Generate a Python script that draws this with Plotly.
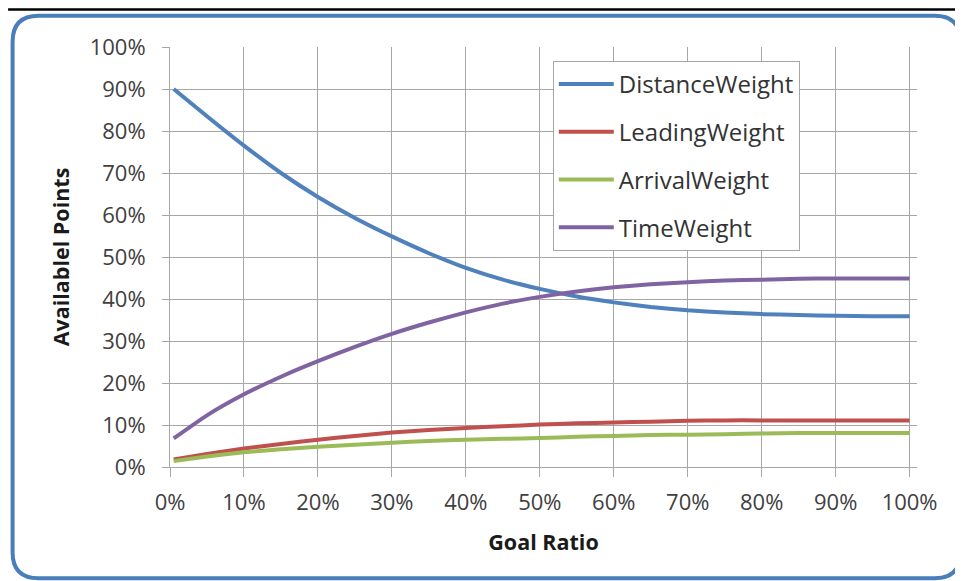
import plotly.graph_objects as go

# ---- data ----
goal_ratio = [0.005, 0.05, 0.10, 0.15, 0.20, 0.25, 0.30, 0.35, 0.40, 0.45, 0.50,
              0.55, 0.60, 0.65, 0.70, 0.75, 0.80, 0.85, 0.90, 0.95, 1.00]
distance_weight = [0.90, 0.835, 0.765, 0.70, 0.643, 0.593, 0.549, 0.509, 0.474, 0.446, 0.424,
                   0.406, 0.392, 0.381, 0.373, 0.368, 0.364, 0.362, 0.36, 0.359, 0.359]
leading_weight = [0.018, 0.031, 0.044, 0.055, 0.065, 0.074, 0.082, 0.088, 0.093, 0.097, 0.101,
                  0.104, 0.106, 0.108, 0.110, 0.111, 0.111, 0.111, 0.111, 0.111, 0.111]
arrival_weight = [0.014, 0.025, 0.035, 0.042, 0.048, 0.053, 0.058, 0.062, 0.065, 0.067, 0.069,
                  0.072, 0.074, 0.076, 0.077, 0.078, 0.080, 0.081, 0.081, 0.081, 0.081]
time_weight = [0.068, 0.123, 0.173, 0.215, 0.252, 0.286, 0.317, 0.344, 0.368, 0.389, 0.405,
               0.418, 0.428, 0.435, 0.440, 0.444, 0.446, 0.448, 0.449, 0.449, 0.449]

series = [
    ("DistanceWeight", distance_weight, "#4F81BD"),
    ("LeadingWeight", leading_weight, "#C0504D"),
    ("ArrivalWeight", arrival_weight, "#9BBB59"),
    ("TimeWeight", time_weight, "#8064A2"),
]

x_ticks = [i / 10 for i in range(11)]
y_ticks = [i / 10 for i in range(11)]
tick_text = [f"{i * 10}%" for i in range(11)]

# the page body has an 8px margin: the figure is drawn 8px in from the window
OFF = 8
W, H = 963 - OFF, 581 - OFF
ML, MR, MT, MB = 170 - OFF, 45.6, 46.7 - OFF, 114.3
PW = W - ML - MR
PH = H - MT - MB

fig = go.Figure()
for name, vals, color in series:
    fig.add_trace(go.Scatter(
        x=goal_ratio, y=vals, mode="lines", name=name, legendgroup=name,
        line=dict(color=color, width=4, shape="spline", smoothing=0.5),
    ))

grid = "#A6A6A6"
tick_font = dict(family="Open Sans", size=22, color="#404040")
title_font = dict(family="Open Sans", size=21.5, color="#1a1a1a")

fig.update_xaxes(
    range=[0, 1.01], tickvals=x_ticks, ticktext=tick_text,
    showgrid=True, gridcolor=grid, gridwidth=1,
    showline=True, linecolor=grid, linewidth=1,
    ticks="outside", ticklen=9, tickcolor=grid, tickwidth=1,
    tickfont=tick_font, ticklabelstandoff=7,
    zeroline=False,
    title=dict(text="<b>Goal Ratio</b>", font=title_font, standoff=19),
)
fig.update_yaxes(
    range=[0, 1], tickvals=y_ticks, ticktext=tick_text,
    showgrid=True, gridcolor=grid, gridwidth=1,
    showline=True, linecolor=grid, linewidth=1,
    ticks="outside", ticklen=7, tickcolor=grid, tickwidth=1,
    tickfont=tick_font, ticklabelstandoff=12,
    zeroline=False,
    title=dict(text="<b>Availablel Points</b>", font=title_font, standoff=14),
)


def px_x(p):
    return (p - OFF - ML) / PW


def px_y(p):
    return (H - MB - (p - OFF)) / PH


# rounded outer frame
L, R, T, B, rad = 12.5, 961, 15.5, 578, 26
path = (
    f"M {px_x(L)} {px_y(T + rad)} Q {px_x(L)} {px_y(T)} {px_x(L + rad)} {px_y(T)} "
    f"L {px_x(R - rad)} {px_y(T)} Q {px_x(R)} {px_y(T)} {px_x(R)} {px_y(T + rad)} "
    f"L {px_x(R)} {px_y(B - rad)} Q {px_x(R)} {px_y(B)} {px_x(R - rad)} {px_y(B)} "
    f"L {px_x(L + rad)} {px_y(B)} Q {px_x(L)} {px_y(B)} {px_x(L)} {px_y(B - rad)} Z"
)
fig.add_shape(type="path", path=path, xref="paper", yref="paper",
              line=dict(color="#4A7EBB", width=4), layer="below")
# black rule at the top of the page (as high as the body margin allows)
fig.add_shape(type="line", xref="paper", yref="paper",
              x0=px_x(8), x1=px_x(963), y0=px_y(9.3), y1=px_y(9.3),
              line=dict(color="black", width=2.5))

fig.update_layout(
    width=W, height=H,
    margin=dict(l=ML, r=MR, t=MT, b=MB, pad=0),
    paper_bgcolor="white", plot_bgcolor="white",
    font=dict(family="Open Sans"),
    legend=dict(
        x=px_x(553), y=px_y(60.7), xanchor="left", yanchor="top",
        bgcolor="white", bordercolor="#A6A6A6", borderwidth=1,
        font=dict(family="Open Sans", size=24, color="#333333"),
        tracegroupgap=13.5, itemwidth=55,
    ),
    showlegend=True,
)

fig.write_html("out.html")
